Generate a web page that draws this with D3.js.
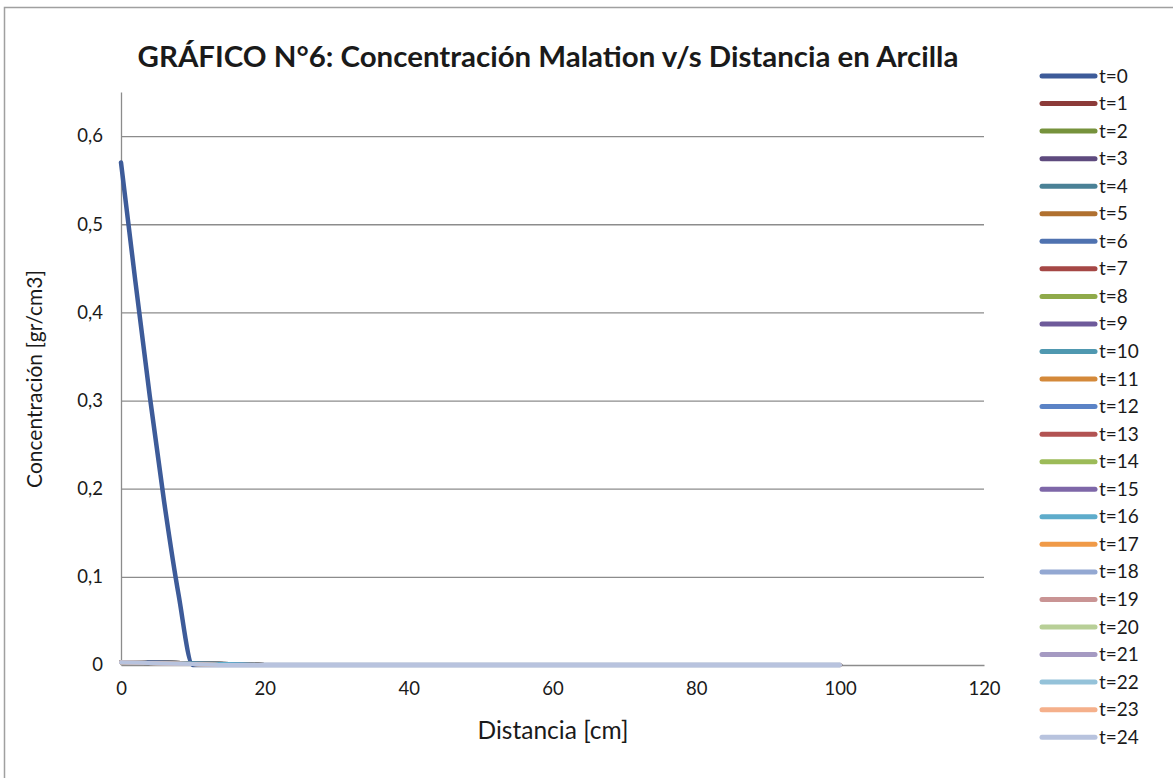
<!DOCTYPE html>
<html>
<head>
<meta charset="utf-8">
<script src="https://cdn.jsdelivr.net/npm/d3@7"></script>
<style>
  body { margin: 0; background: #fff; }
  svg { display: block; font-family: Lato, "Noto Sans", sans-serif; }
</style>
</head>
<body>
<svg id="chart" width="1173" height="778"></svg>
<script>
// distances [cm] at which each curve is sampled
const distT0 = [0, 2, 4, 6, 8, 10, 20, 40, 60, 80, 100];
const distLater = [0, 5, 10, 15, 20, 40, 60, 80, 100];

// t=0 profile
const concT0 = [0.57, 0.435, 0.305, 0.185, 0.08, 0, 0, 0, 0, 0, 0];

// t=1 .. t=24 profiles (all practically zero)
const concLater = [
  [0.003, 0.003, 0.002, 0.001, 0, 0, 0, 0, 0],
  [0.003, 0.003, 0.002, 0.001, 0, 0, 0, 0, 0],
  [0.003, 0.003, 0.002, 0.001, 0, 0, 0, 0, 0],
  [0.003, 0.003, 0.002, 0.001, 0, 0, 0, 0, 0],
  [0.003, 0.003, 0.002, 0.001, 0, 0, 0, 0, 0],
  [0.003, 0.003, 0.002, 0.001, 0, 0, 0, 0, 0],
  [0.003, 0.002, 0.002, 0.001, 0, 0, 0, 0, 0],
  [0.003, 0.002, 0.002, 0.001, 0, 0, 0, 0, 0],
  [0.003, 0.002, 0.002, 0.001, 0, 0, 0, 0, 0],
  [0.003, 0.002, 0.002, 0.001, 0, 0, 0, 0, 0],
  [0.003, 0.002, 0.001, 0.001, 0, 0, 0, 0, 0],
  [0.003, 0.002, 0.001, 0.001, 0, 0, 0, 0, 0],
  [0.003, 0.002, 0.001, 0.001, 0, 0, 0, 0, 0],
  [0.003, 0.002, 0.001, 0.001, 0, 0, 0, 0, 0],
  [0.003, 0.002, 0.001, 0.001, 0, 0, 0, 0, 0],
  [0.003, 0.002, 0.001, 0.001, 0, 0, 0, 0, 0],
  [0.003, 0.002, 0.001, 0, 0, 0, 0, 0, 0],
  [0.003, 0.002, 0.001, 0, 0, 0, 0, 0, 0],
  [0.003, 0.002, 0.001, 0, 0, 0, 0, 0, 0],
  [0.003, 0.002, 0.001, 0, 0, 0, 0, 0, 0],
  [0.003, 0.002, 0.001, 0, 0, 0, 0, 0, 0],
  [0.003, 0.002, 0.001, 0, 0, 0, 0, 0, 0],
  [0.003, 0.002, 0.001, 0, 0, 0, 0, 0, 0],
  [0.003, 0.002, 0.001, 0, 0, 0, 0, 0, 0]
];

const seriesNames = ['t=0', 't=1', 't=2', 't=3', 't=4', 't=5', 't=6', 't=7', 't=8', 't=9',
  't=10', 't=11', 't=12', 't=13', 't=14', 't=15', 't=16', 't=17', 't=18', 't=19',
  't=20', 't=21', 't=22', 't=23', 't=24'];

const seriesColors = ['#3d5b99', '#8c3b39', '#76923c', '#5e4a7e', '#4a8196', '#b0702f',
  '#4f72b0', '#a54745', '#8faa4a', '#6e5a9a', '#4f98b0', '#d4893a',
  '#5b83c6', '#b25352', '#9cbb58', '#7e67a8', '#5eaccb', '#f09a47',
  '#93a8d2', '#c99494', '#b8cf97', '#a59ac2', '#94c2d9', '#f5b08b', '#b8c3de'];

const xTicks = [0, 20, 40, 60, 80, 100, 120];
const yTicks = [0, 0.1, 0.2, 0.3, 0.4, 0.5, 0.6];

const titleText = 'GRÁFICO N°6: Concentración Malation v/s Distancia en Arcilla';
const xTitle = 'Distancia [cm]';
const yTitle = 'Concentración [gr/cm3]';

const svg = d3.select('#chart');

// scale a text's font size so it covers the measured width
function fitWidth(sel, size, target) {
  sel.style('font-size', size + 'px');
  const w = sel.node().getComputedTextLength();
  sel.style('font-size', (size * target / w) + 'px');
}

// outer chart border
svg.append('rect')
  .attr('x', 4.5).attr('y', 7.5)
  .attr('width', 1200).attr('height', 800)
  .attr('fill', 'none')
  .attr('stroke', '#a0a0a0')
  .attr('stroke-width', 1.5);

const margin = { top: 92, left: 121 };
const width = 863;
const height = 573;

const x = d3.scaleLinear().domain([0, 120]).range([0, width]);
const y = d3.scaleLinear().domain([0, 0.65]).range([height, 0]);

const g = svg.append('g')
  .attr('transform', `translate(${margin.left},${margin.top})`);

// gridlines
g.append('g')
  .call(d3.axisLeft(y).tickValues(yTicks.slice(1)).tickSize(-width).tickFormat(''))
  .call(s => s.select('.domain').remove())
  .selectAll('line')
  .attr('stroke', '#8c8c8c')
  .attr('stroke-width', 1.3);

// y axis
const yAxis = g.append('g')
  .call(d3.axisLeft(y).tickValues(yTicks).tickSize(0).tickPadding(18)
    .tickFormat(d => d === 0 ? '0' : d3.format('.1f')(d).replace('.', ',')));
yAxis.select('.domain').attr('stroke', '#8c8c8c').attr('stroke-width', 1.3);
yAxis.selectAll('text').style('font-size', '18.5px').style('fill', '#1a1a1a')
  .style('font-family', 'Lato, "Noto Sans", sans-serif');

// x axis
const xAxis = g.append('g')
  .attr('transform', `translate(0,${height})`)
  .call(d3.axisBottom(x).tickValues(xTicks).tickSize(0).tickPadding(17));
xAxis.select('.domain').attr('stroke', '#8c8c8c').attr('stroke-width', 1.3);
xAxis.selectAll('text').style('font-size', '18.5px').style('fill', '#1a1a1a')
  .style('font-family', 'Lato, "Noto Sans", sans-serif');

const line = d3.line()
  .x(d => x(d[0]))
  .y(d => y(d[1]))
  .curve(d3.curveMonotoneX);

// series: t=0 first, others drawn after so t=24 sits on top at the baseline
const allSeries = [distT0.map((d, i) => [d, concT0[i]])]
  .concat(concLater.map(vals => distLater.map((d, i) => [d, vals[i]])));

allSeries.forEach((pts, i) => {
  g.append('path')
    .datum(pts)
    .attr('fill', 'none')
    .attr('stroke', seriesColors[i])
    .attr('stroke-width', i === 0 ? 4.5 : 4)
    .attr('stroke-linejoin', 'round')
    .attr('stroke-linecap', 'round')
    .attr('d', line);
});

// title
const title = svg.append('text')
  .attr('x', 548).attr('y', 67)
  .attr('text-anchor', 'middle')
  .style('font-weight', 'bold')
  .style('fill', '#1a1a1a')
  .text(titleText);
fitWidth(title, 24, 821);

// axis titles
const xt = svg.append('text')
  .attr('x', 553).attr('y', 739)
  .attr('text-anchor', 'middle')
  .style('fill', '#1a1a1a')
  .text(xTitle);
fitWidth(xt, 20, 151);

const yt = svg.append('text')
  .attr('transform', 'translate(42,379) rotate(-90)')
  .attr('text-anchor', 'middle')
  .style('fill', '#1a1a1a')
  .text(yTitle);
fitWidth(yt, 20, 218);

// legend
const legend = svg.append('g');
seriesNames.forEach((name, i) => {
  const ly = 76 + i * 27.55;
  legend.append('line')
    .attr('x1', 1042).attr('x2', 1095)
    .attr('y1', ly).attr('y2', ly)
    .attr('stroke', seriesColors[i])
    .attr('stroke-width', 5)
    .attr('stroke-linecap', 'round');
  legend.append('text')
    .attr('x', 1099).attr('y', ly + 6.5)
    .style('font-size', '19px')
    .style('fill', '#1a1a1a')
    .text(name);
});
</script>
</body>
</html>
